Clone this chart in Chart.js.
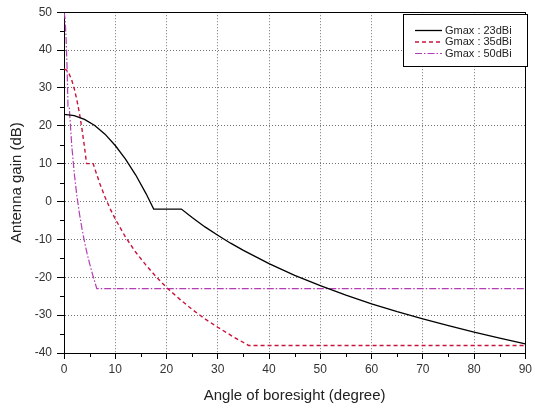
<!DOCTYPE html>
<html><head><meta charset="utf-8">
<script src="https://cdn.jsdelivr.net/npm/chart.js@4/dist/chart.umd.min.js"></script>
<style>html,body{margin:0;padding:0;background:#fff;overflow:hidden}</style>
</head><body>
<canvas id="c" width="535" height="411"></canvas>
<script>
// ---- data ----
const seriesNames = ['Gmax : 23dBi', 'Gmax : 35dBi', 'Gmax : 50dBi'];
const xTickValues = [0, 10, 20, 30, 40, 50, 60, 70, 80, 90];
const yTickValues = [-40, -30, -20, -10, 0, 10, 20, 30, 40, 50];
const xMinorTicks = [5, 15, 25, 35, 45, 55, 65, 75, 85];
const yMinorTicks = [-35, -25, -15, -5, 5, 15, 25, 35, 45];

const angle23 = [0, 2, 4, 6, 8, 10, 12, 14, 16, 17.5, 22.9, 25, 27.5, 30, 32.5, 35, 40, 45, 50, 55, 60, 65, 70, 75, 80, 85, 90];
const gain23  = [23, 22.7, 21.7, 20.1, 17.8, 14.8, 11.2, 7.0, 2.1, -2.0, -2.0, -4.2, -6.7, -8.9, -11.0, -12.9, -16.4, -19.5, -22.2, -24.7, -27.0, -29.1, -31.0, -32.8, -34.5, -36.1, -37.6];

const angle35 = [0, 0.5, 1, 1.5, 2, 2.5, 3, 3.5, 4, 4.4, 5.7, 6, 7, 8, 9, 10, 12, 14, 16, 18, 20, 22.5, 25, 27.5, 30, 33, 36, 90];
const gain35  = [35, 34.7, 33.7, 32.1, 29.8, 26.9, 23.4, 19.2, 14.4, 10, 10, 8.7, 4.7, 1.2, -1.9, -4.6, -9.4, -13.4, -16.8, -19.9, -22.7, -25.7, -28.5, -31.0, -33.2, -35.7, -38, -38];

const angle50 = [0, 0.2, 0.4, 0.6, 0.78, 1.02, 1.5, 2, 2.5, 3, 3.5, 4, 4.5, 5, 5.5, 6, 6.4, 90];
const gain50  = [50, 48.4, 43.5, 35.3, 25.1, 25, 15, 7.5, 1.6, -3.1, -7.1, -10.6, -13.7, -16.4, -18.9, -21.2, -23, -23];

const colors = ['#000000', '#c8143c', '#b43cb4'];
const dashes = [[], [4, 3], [7, 2, 1.5, 2]];
const widths = [1.3, 1.4, 1.2];

const pts = (xs, ys) => xs.map((x, i) => ({x: x, y: ys[i]}));
const allX = [angle23, angle35, angle50];
const allY = [gain23, gain35, gain50];

const FONT = '"Liberation Sans", Arial, sans-serif';

const extras = {
  id: 'extras',
  afterDatasetsDraw(chart) {
    const {ctx, chartArea: a, scales: {x, y}} = chart;
    ctx.save();
    ctx.strokeStyle = '#000';
    ctx.lineWidth = 1;
    ctx.setLineDash([]);
    ctx.beginPath();
    xMinorTicks.forEach(v => {
      const px = Math.round(x.getPixelForValue(v)) + 0.5;
      ctx.moveTo(px, a.bottom); ctx.lineTo(px, a.bottom + 4);
    });
    yMinorTicks.forEach(v => {
      const py = Math.round(y.getPixelForValue(v)) + 0.5;
      ctx.moveTo(a.left, py); ctx.lineTo(a.left - 4, py);
    });
    // top and right frame
    ctx.moveTo(a.left, Math.round(a.top) + 0.5); ctx.lineTo(a.right, Math.round(a.top) + 0.5);
    ctx.moveTo(Math.round(a.right) + 0.5, a.top); ctx.lineTo(Math.round(a.right) + 0.5, a.bottom);
    ctx.stroke();
    ctx.restore();
  },
  afterDraw(chart) {
    const {ctx} = chart;
    ctx.save();
    const bx = 403.5, by = 14.5, bw = 124, bh = 52;
    ctx.fillStyle = '#fff';
    ctx.fillRect(bx, by, bw, bh);
    ctx.strokeStyle = '#000';
    ctx.lineWidth = 1;
    ctx.setLineDash([]);
    ctx.strokeRect(bx, by, bw, bh);
    const rows = [30.5, 42, 53.5];
    ctx.font = '11px ' + FONT;
    ctx.textBaseline = 'middle';
    ctx.textAlign = 'left';
    seriesNames.forEach((name, i) => {
      ctx.strokeStyle = colors[i];
      ctx.lineWidth = widths[i];
      ctx.setLineDash(dashes[i]);
      ctx.beginPath();
      ctx.moveTo(415, rows[i]); ctx.lineTo(442, rows[i]);
      ctx.stroke();
      ctx.setLineDash([]);
      ctx.fillStyle = '#222';
      ctx.fillText(name, 445, rows[i]);
    });
    ctx.restore();
  }
};

new Chart(document.getElementById('c'), {
  type: 'line',
  data: {
    datasets: seriesNames.map((n, i) => ({
      label: n,
      data: pts(allX[i], allY[i]),
      borderColor: colors[i],
      borderWidth: widths[i],
      borderDash: dashes[i],
      pointRadius: 0,
      fill: false,
      tension: 0
    }))
  },
  options: {
    responsive: false,
    animation: false,
    layout: {padding: {top: 11, right: 6, left: 0, bottom: 0}},
    plugins: {legend: {display: false}, tooltip: {enabled: false}},
    scales: {
      x: {
        type: 'linear', min: 0, max: 90,
        afterBuildTicks: s => { s.ticks = xTickValues.map(v => ({value: v})); },
        ticks: {color: '#333', font: {family: FONT, size: 12}, padding: 3, maxRotation: 0, autoSkip: false},
        grid: {color: 'rgba(0,0,0,0.55)', lineWidth: 1, tickLength: 6, tickColor: '#000'},
        border: {color: '#000', width: 1, dash: [1, 2]},
        title: {display: true, text: 'Angle of boresight (degree)', color: '#222', font: {family: FONT, size: 15}, padding: {top: 0, bottom: 6}},
        afterFit: s => { s.height = 58; }
      },
      y: {
        type: 'linear', min: -40, max: 50,
        afterBuildTicks: s => { s.ticks = yTickValues.map(v => ({value: v})); },
        ticks: {color: '#333', font: {family: FONT, size: 12}, padding: 5, autoSkip: false},
        grid: {color: 'rgba(0,0,0,0.55)', lineWidth: 1, tickLength: 7, tickColor: '#000'},
        border: {color: '#000', width: 1, dash: [1, 2]},
        title: {display: true, text: 'Antenna gain (dB)', color: '#222', font: {family: FONT, size: 15}, padding: {top: 8, bottom: 0}},
        afterFit: s => { s.width = 64; }
      }
    }
  },
  plugins: [extras]
});
</script>
</body></html>
